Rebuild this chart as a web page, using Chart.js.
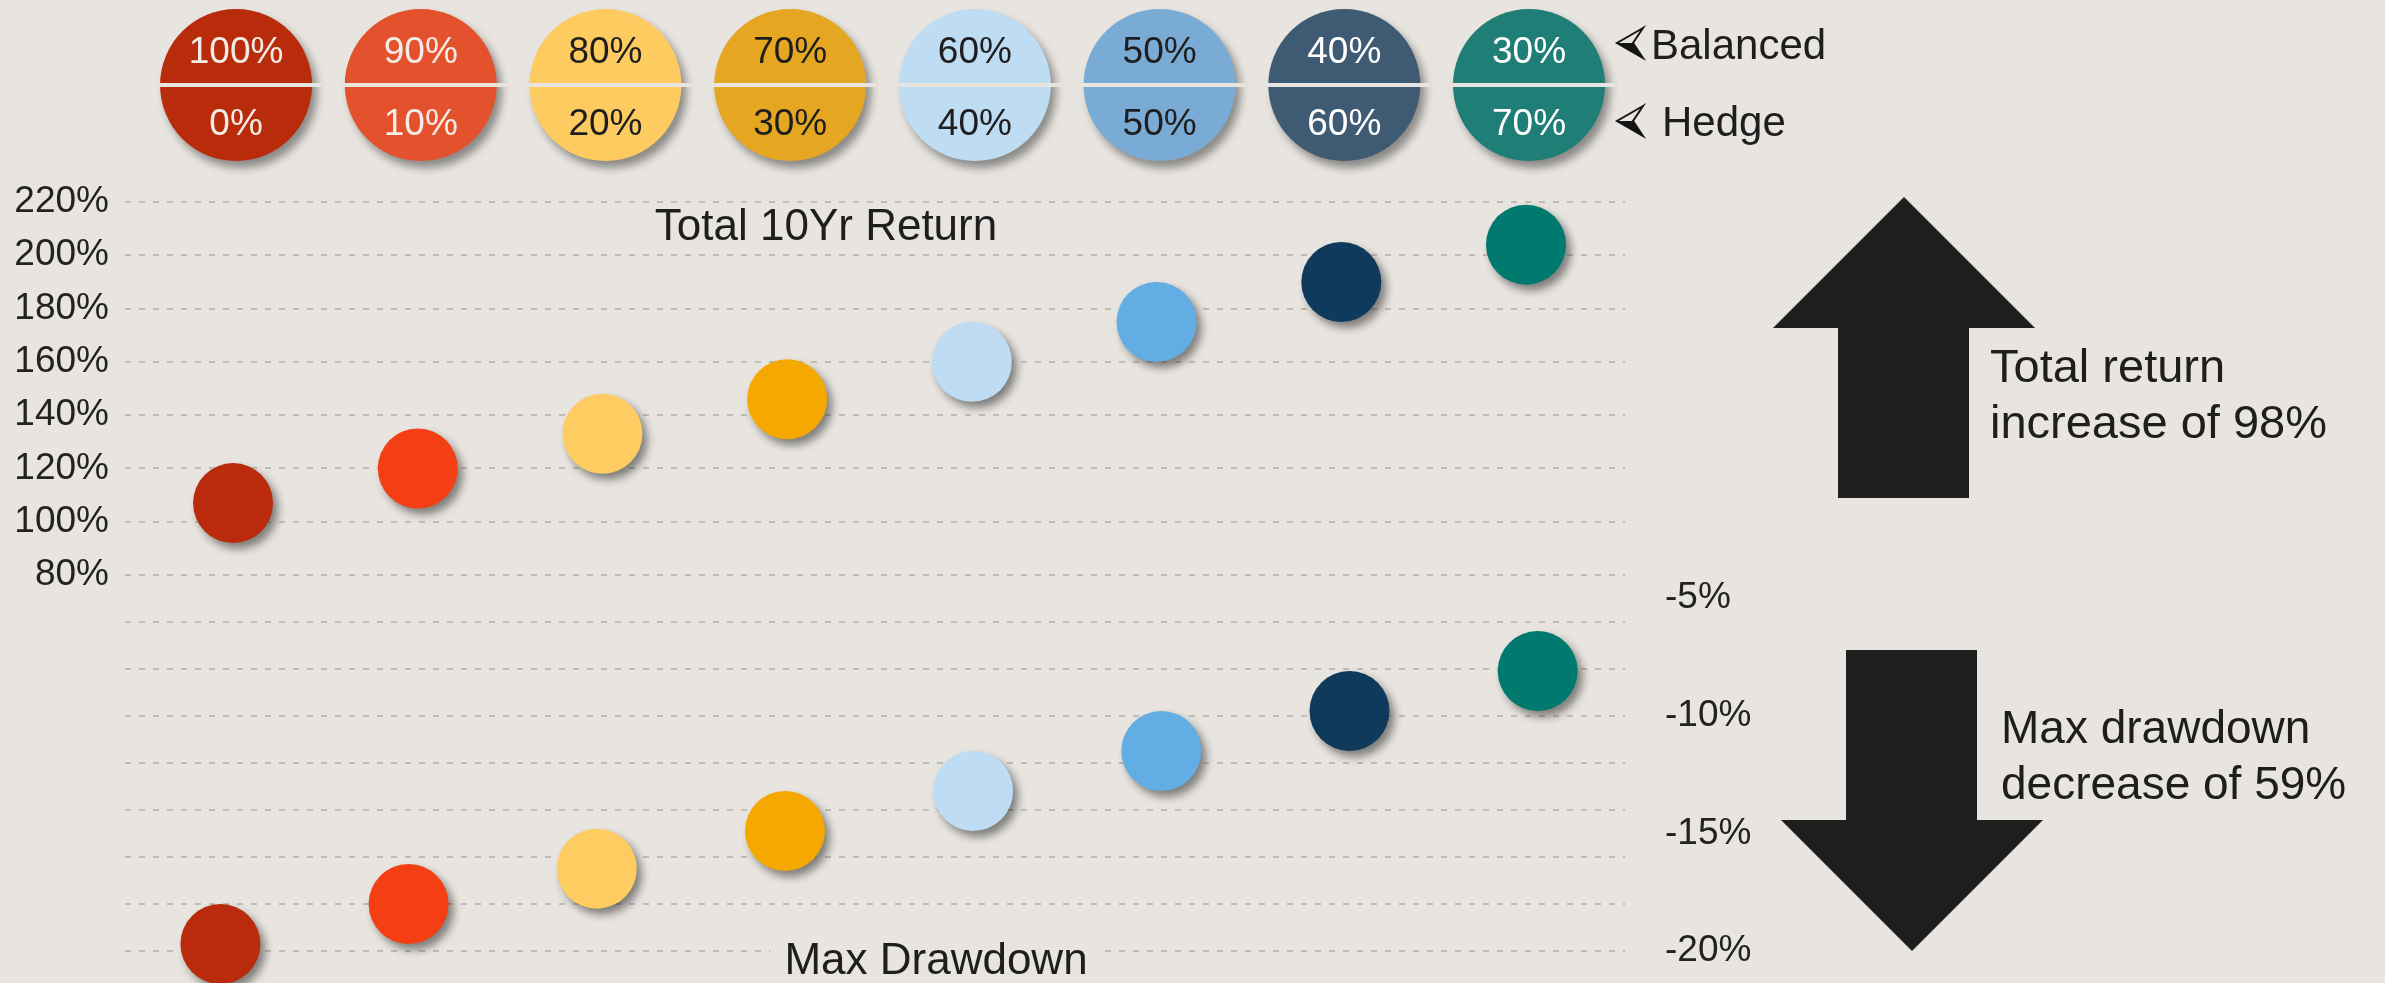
<!DOCTYPE html>
<html>
<head>
<meta charset="utf-8">
<title>Balanced vs Hedge mix</title>
<script src="https://cdn.jsdelivr.net/npm/chart.js@4.4.1/dist/chart.umd.min.js"></script>
<style>
  html, body { margin: 0; padding: 0; background: #e8e5e0; overflow: hidden; }
  #wrap { width: 2385px; height: 983px; }
</style>
</head>
<body>
<div id="wrap"><canvas id="mixChart" width="2385" height="983"></canvas></div>
<script>
const FONT = "'Liberation Sans', Arial, Helvetica, sans-serif";
const BG = '#e8e5e0';
const INK = '#1e1e1e';
const GRID = '#bfbbb5';
const CLEAR = 'rgba(0,0,0,0)';

// portfolio mixes (top pills)
const balancedPct = [100, 90, 80, 70, 60, 50, 40, 30];
const hedgePct = [0, 10, 20, 30, 40, 50, 60, 70];

// series
const totalReturn = [107, 120, 133, 146, 160, 175, 190, 204];
const maxDrawdown = [-19.7, -18.0, -16.5, -14.9, -13.2, -11.5, -9.8, -8.1];

// axis ticks
const returnTicks = [80, 100, 120, 140, 160, 180, 200, 220];
const drawdownTicks = [-5, -10, -15, -20];
const drawdownGrid = [-20, -18, -16, -14, -12, -10, -8, -6];

const dotColors = ['#b92b0c', '#f43f14', '#fecc60', '#f5a900', '#bedcf3', '#62ade3', '#0f3a5c', '#00796f'];
const pillColors = ['#b82b0b', '#e4512d', '#fdcb60', '#e5a621', '#bedcf2', '#79abd5', '#3f5b73', '#1f7e76'];
const pillText = ['#f2ebe6', '#f2ebe6', INK, INK, INK, INK, '#ffffff', '#ffffff'];

const returnNote = ['Total return', 'increase of 98%'];
const drawdownNote = ['Max drawdown', 'decrease of 59%'];

function isWhole(v) {
  return Math.abs(v - Math.round(v)) < 1e-6;
}

// the little "<" pointer next to Balanced / Hedge
function drawPointer(ctx, x, y) {
  ctx.save();
  ctx.fillStyle = '#151515';
  ctx.beginPath();
  ctx.moveTo(x, y);
  ctx.lineTo(x + 16, y);
  ctx.lineTo(x + 26, y + 15);
  ctx.closePath();
  ctx.fill();
  ctx.beginPath();
  ctx.moveTo(x + 26, y - 15);
  ctx.lineTo(x, y);
  ctx.lineTo(x + 26, y + 15);
  ctx.lineTo(x + 16, y);
  ctx.closePath();
  ctx.strokeStyle = '#151515';
  ctx.lineWidth = 2;
  ctx.lineJoin = 'miter';
  ctx.stroke();
  ctx.restore();
}

function drawPolygon(ctx, pts) {
  ctx.beginPath();
  pts.forEach(([x, y], i) => i ? ctx.lineTo(x, y) : ctx.moveTo(x, y));
  ctx.closePath();
  ctx.fill();
}

const decorPlugin = {
  id: 'decor',
  beforeDraw(chart) {
    const ctx = chart.ctx;
    ctx.save();
    ctx.fillStyle = BG;
    ctx.fillRect(0, 0, chart.width, chart.height);
    ctx.restore();
  },
  beforeDatasetsDraw(chart) {
    const ctx = chart.ctx;
    ctx.save();
    ctx.shadowColor = 'rgba(0,0,0,0.45)';
    ctx.shadowBlur = 8;
    ctx.shadowOffsetX = 5;
    ctx.shadowOffsetY = 6;
  },
  afterDatasetsDraw(chart) {
    chart.ctx.restore();
  },
  afterDraw(chart) {
    const ctx = chart.ctx;
    const xs = chart.scales.xTop;
    ctx.save();

    // mix pills
    balancedPct.forEach((b, i) => {
      const cx = xs.getPixelForValue(i) + 3;
      const cy = 85;
      ctx.save();
      ctx.shadowColor = 'rgba(0,0,0,0.4)';
      ctx.shadowBlur = 8;
      ctx.shadowOffsetX = 5;
      ctx.shadowOffsetY = 7;
      ctx.beginPath();
      ctx.arc(cx, cy, 76, 0, Math.PI * 2);
      ctx.fillStyle = pillColors[i];
      ctx.fill();
      ctx.restore();
      ctx.fillStyle = BG;
      ctx.fillRect(cx - 78, cy - 2, 164, 4);
      ctx.fillStyle = pillText[i];
      ctx.font = '37px ' + FONT;
      ctx.textAlign = 'center';
      ctx.textBaseline = 'alphabetic';
      ctx.fillText(b + '%', cx, 63);
      ctx.fillText(hedgePct[i] + '%', cx, 135);
    });

    // Balanced / Hedge keys
    ctx.font = '42px ' + FONT;
    ctx.textAlign = 'left';
    ctx.textBaseline = 'alphabetic';
    drawPointer(ctx, 1617, 43);
    ctx.fillStyle = INK;
    ctx.fillText('Balanced', 1651, 59);
    drawPointer(ctx, 1617, 121);
    ctx.fillStyle = INK;
    ctx.fillText('Hedge', 1662, 136);

    // panel titles
    ctx.font = '44px ' + FONT;
    ctx.textAlign = 'center';
    ctx.textBaseline = 'middle';
    ctx.fillStyle = INK;
    ctx.fillText('Total 10Yr Return', 826, 228);
    const w = ctx.measureText('Max Drawdown').width;
    ctx.fillStyle = BG;
    ctx.fillRect(936 - w / 2 - 14, 940, w + 28, 43);
    ctx.fillStyle = INK;
    ctx.fillText('Max Drawdown', 936, 962);

    // big arrows
    ctx.fillStyle = INK;
    drawPolygon(ctx, [[1904, 197], [2035, 328], [1969, 328], [1969, 498], [1838, 498], [1838, 328], [1773, 328]]);
    drawPolygon(ctx, [[1846, 650], [1977, 650], [1977, 820], [2043, 820], [1912, 951], [1781, 820], [1846, 820]]);

    // notes
    ctx.font = '47px ' + FONT;
    ctx.textAlign = 'left';
    ctx.textBaseline = 'alphabetic';
    ctx.fillText(returnNote[0], 1990, 382);
    ctx.fillText(returnNote[1], 1990, 438);
    ctx.font = '46px ' + FONT;
    ctx.fillText(drawdownNote[0], 2001, 743);
    ctx.fillText(drawdownNote[1], 2001, 799);

    ctx.restore();
  }
};

const ctx = document.getElementById('mixChart').getContext('2d');
new Chart(ctx, {
  type: 'scatter',
  data: {
    datasets: [
      {
        label: 'Total 10Yr Return',
        data: totalReturn.map((v, i) => ({ x: i, y: v })),
        xAxisID: 'xTop',
        yAxisID: 'yTop',
        pointRadius: 40,
        pointHoverRadius: 40,
        pointBackgroundColor: dotColors,
        pointBorderWidth: 0,
        clip: false
      },
      {
        label: 'Max Drawdown',
        data: maxDrawdown.map((v, i) => ({ x: i, y: v })),
        xAxisID: 'xBot',
        yAxisID: 'yBot',
        pointRadius: 40,
        pointHoverRadius: 40,
        pointBackgroundColor: dotColors,
        pointBorderWidth: 0,
        clip: false
      }
    ]
  },
  options: {
    responsive: false,
    devicePixelRatio: 1,
    animation: false,
    events: [],
    layout: { autoPadding: false, padding: { left: 0, right: 0, top: 202, bottom: 32 } },
    plugins: {
      legend: { display: false },
      tooltip: { enabled: false }
    },
    scales: {
      xTop: { type: 'linear', display: false, min: -0.585, max: 7.536 },
      xBot: { type: 'linear', display: false, min: -0.507, max: 7.464 },
      yTop: {
        position: 'left',
        min: -61.1,
        max: 220,
        afterFit(scale) { scale.width = 125; },
        ticks: {
          stepSize: 20,
          autoSkip: false,
          padding: 3,
          color: '#222',
          font: { family: FONT, size: 37 },
          callback: v => (isWhole(v) && returnTicks.includes(Math.round(v))) ? Math.round(v) + '%' : null
        },
        grid: {
          drawTicks: true,
          tickLength: 13,
          tickColor: CLEAR,
          lineWidth: 2,
          color: c => (c.tick && isWhole(c.tick.value) && returnTicks.includes(Math.round(c.tick.value))) ? GRID : CLEAR
        },
        border: { display: false, dash: [6, 8] }
      },
      yBot: {
        position: 'right',
        min: -20,
        max: 11.83,
        afterFit(scale) { scale.width = 760; },
        ticks: {
          stepSize: 1,
          autoSkip: false,
          padding: 3,
          color: '#222',
          font: { family: FONT, size: 37 },
          callback: v => {
            if (!isWhole(v)) return null;
            const r = Math.round(v);
            if (drawdownTicks.includes(r)) return r + '%';
            if (drawdownGrid.includes(r)) return '';
            return null;
          }
        },
        grid: {
          drawTicks: true,
          tickLength: 37,
          tickColor: CLEAR,
          lineWidth: 2,
          color: c => (c.tick && isWhole(c.tick.value) && drawdownGrid.includes(Math.round(c.tick.value))) ? GRID : CLEAR
        },
        border: { display: false, dash: [6, 8] }
      }
    }
  },
  plugins: [decorPlugin]
});
</script>
</body>
</html>
